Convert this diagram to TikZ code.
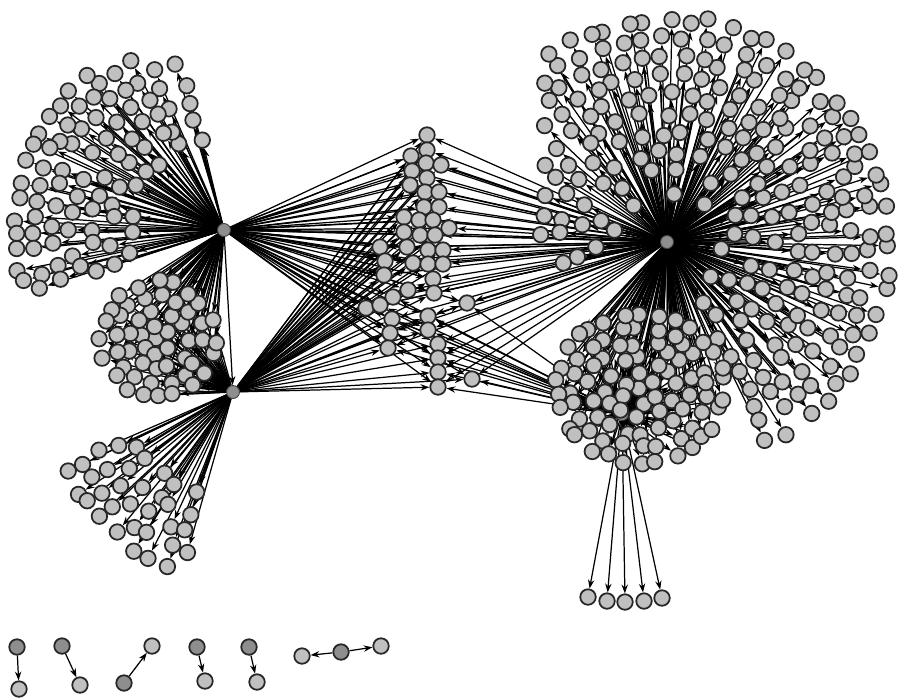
\documentclass[tikz,border=0pt]{standalone}
\usepackage{tikz}
\usetikzlibrary{arrows.meta, backgrounds}
\definecolor{feuille}{HTML}{C0C0C0}
\definecolor{pivot}{HTML}{8E8E8E}
\tikzset{
  leaf/.style={circle, draw=black!85, fill=feuille, line width=1pt, minimum size=0.31cm, inner sep=0pt},
  root/.style={leaf, fill=pivot},
  hub/.style={circle, draw=black!75, fill=pivot, line width=0.5pt, minimum size=0.26cm, inner sep=0pt},
  edge/.style={line width=0.7pt, -{Stealth[length=5pt, width=3.6pt]}}
}
% rayon/nombre/angle debut/angle fin
\def\ringsA{95/8/100/200, 114/10/100/200, 133/12/100/200, 152/13/102/200, 171/15/104/200, 190/16/117/200, 209/14/130/198}
\def\ringsB{110/5/203/255, 129/6/202/256, 148/7/201/257, 167/8/200/258, 185/8/203/252}
\def\ringsAB{0/1/0/360, 15/6/0/360, 30/11/15/375, 44/16/5/365, 57/20/10/370}
\def\ringsC{52/6/-65/195, 71/10/-65/195, 90/17/-65/195, 109/22/-65/195, 128/26/-65/182, 147/26/-65/151, 166/28/-65/141, 185/31/-65/134, 204/33/-65/129, 223/35/-65/125}
\def\ringsD{0/1/0/360, 17/6/0/360, 34/12/15/375, 51/18/5/365, 68/24/10/370, 84/30/0/360}
\def\milieu{427/135, 427/150, 411/156, 426/163, 441/165, 412/171, 427/178, 410/185, 425/192, 439/192, 424/207, 439/207, 404/217, 419/220, 433/220, 449/228, 404/232, 420/235, 435/235, 380/247, 407/247, 428/250, 443/250, 385/261, 413/263, 428/264, 443/264, 384/275, 433/279, 408/290, 393/297, 434/293, 467/303, 366/308, 380/305, 392/319, 428/316, 390/333, 428/330, 388/348, 438/344, 438/358, 438/372, 438/387, 472/379}
\begin{document}
\begin{tikzpicture}[x=0.02cm, y=-0.02cm]
  \useasboundingbox (0,0) rectangle (902,697);
  \pgfmathsetseed{2718}
  \node[hub] (A) at (224,230) {};
  \node[hub] (B) at (233,392) {};
  \node[hub] (C) at (667,242) {};
  \node[hub] (D) at (622,414) {};

  \foreach \rad/\cnt/\deb/\fin in \ringsA {
    \foreach \k in {1,...,\cnt} {
      \pgfmathsetmacro\ang{\deb+(\k-0.5+0.3*rand)*(\fin-(\deb))/\cnt}
      \pgfmathsetmacro\rr{\rad+4*rand}
      \node[leaf] (a-\rad-\k) at ({224+\rr*cos(\ang)}, {230-\rr*sin(\ang)}) {};
    }
  }
  \foreach \rad/\cnt/\deb/\fin in \ringsB {
    \foreach \k in {1,...,\cnt} {
      \pgfmathsetmacro\ang{\deb+(\k-0.5+0.3*rand)*(\fin-(\deb))/\cnt}
      \pgfmathsetmacro\rr{\rad+4*rand}
      \node[leaf] (b-\rad-\k) at ({233+\rr*cos(\ang)}, {392-\rr*sin(\ang)}) {};
    }
  }
  \foreach \rad/\cnt/\deb/\fin in \ringsAB {
    \foreach \k in {1,...,\cnt} {
      \pgfmathsetmacro\ang{\deb+(\k-0.5+0.3*rand)*(\fin-(\deb))/\cnt}
      \pgfmathsetmacro\rr{\rad+3*rand}
      \node[leaf] (ab-\rad-\k) at ({158+\rr*cos(\ang)}, {340-\rr*sin(\ang)}) {};
    }
  }
  \foreach \rad/\cnt/\deb/\fin in \ringsC {
    \foreach \k in {1,...,\cnt} {
      \pgfmathsetmacro\ang{\deb+(\k-0.5+0.3*rand)*(\fin-(\deb))/\cnt}
      \pgfmathsetmacro\rr{\rad+4*rand}
      \node[leaf] (c-\rad-\k) at ({667+\rr*cos(\ang)}, {242-\rr*sin(\ang)}) {};
    }
  }
  \foreach \rad/\cnt/\deb/\fin in \ringsD {
    \foreach \k in {1,...,\cnt} {
      \pgfmathsetmacro\ang{\deb+(\k-0.5+0.3*rand)*(\fin-(\deb))/\cnt}
      \pgfmathsetmacro\rr{\rad+3*rand}
      \node[leaf] (d-\rad-\k) at ({640+\rr*cos(\ang)}, {388-0.88*\rr*sin(\ang)}) {};
    }
  }
  \foreach \x/\y [count=\i] in \milieu
    \node[leaf] (m\i) at (\x,\y) {};
  \foreach \x/\y [count=\i] in {588/597, 607/601, 625/602, 644/601, 662/598}
    \node[leaf] (f\i) at (\x,\y) {};

  % petites composantes
  \node[root] (p1) at (17,647) {};
  \node[leaf] (q1) at (19,689) {};
  \node[root] (p2) at (62,646) {};
  \node[leaf] (q2) at (80,685) {};
  \node[root] (p3) at (124,683) {};
  \node[leaf] (q3) at (152,646) {};
  \node[root] (p4) at (197,647) {};
  \node[leaf] (q4) at (205,681) {};
  \node[root] (p5) at (249,647) {};
  \node[leaf] (q5) at (257,682) {};
  \node[root] (p6) at (341,652) {};
  \node[leaf] (q6) at (302,656) {};
  \node[leaf] (r6) at (381,646) {};

  \begin{pgfonlayer}{background}
    \draw[edge] (A) -- (B);
    \foreach \rad/\cnt/\deb/\fin in \ringsA
      \foreach \k in {1,...,\cnt} \draw[edge] (A) -- (a-\rad-\k);
    \foreach \rad/\cnt/\deb/\fin in \ringsB
      \foreach \k in {1,...,\cnt} \draw[edge] (B) -- (b-\rad-\k);
    \foreach \rad/\cnt/\deb/\fin in \ringsAB
      \foreach \k in {1,...,\cnt} {
        \draw[edge] (A) -- (ab-\rad-\k);
        \draw[edge] (B) -- (ab-\rad-\k);
      }
    \foreach \rad/\cnt/\deb/\fin in \ringsC
      \foreach \k in {1,...,\cnt} \draw[edge] (C) -- (c-\rad-\k);
    \foreach \rad/\cnt/\deb/\fin in \ringsD
      \foreach \k in {1,...,\cnt} {
        \draw[edge] (C) -- (d-\rad-\k);
        \draw[edge] (D) -- (d-\rad-\k);
      }
    \foreach \x/\y [count=\i] in \milieu {
      \draw[edge] (A) -- (m\i);
      \draw[edge] (B) -- (m\i);
      \draw[edge] (C) -- (m\i);
      \ifnum\y>295 \draw[edge] (D) -- (m\i); \fi
    }
    \foreach \i in {1,...,5} \draw[edge] (D) -- (f\i);
    \foreach \i in {1,...,5} \draw[edge] (p\i) -- (q\i);
    \draw[edge] (p6) -- (q6);
    \draw[edge] (p6) -- (r6);
  \end{pgfonlayer}
\end{tikzpicture}
\end{document}
